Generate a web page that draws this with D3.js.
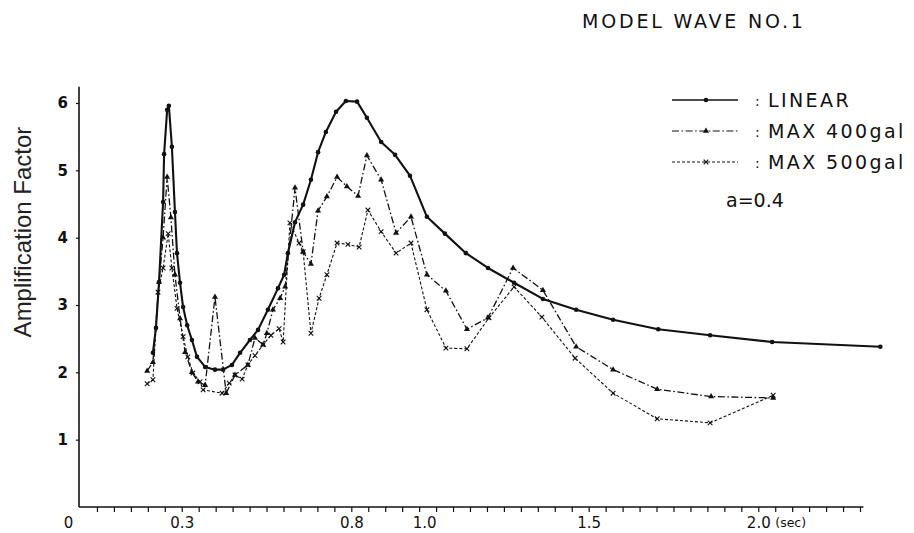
<!DOCTYPE html>
<html>
<head>
<meta charset="utf-8">
<script src="https://cdn.jsdelivr.net/npm/d3@7"></script>
<style>
  html, body { margin: 0; padding: 0; background: #fff; }
  svg { display: block; }
</style>
</head>
<body>
<svg id="chart" width="914" height="533"></svg>
<script>
// ---- data: [period (sec), amplification factor] ----
const linearData = [
  [0.215,2.29],[0.224,2.66],[0.233,3.34],[0.245,4.53],[0.248,5.24],[0.257,5.90],[0.262,5.96],
  [0.271,5.35],[0.280,4.38],[0.286,3.77],[0.295,3.33],[0.304,2.97],[0.316,2.70],[0.330,2.48],
  [0.345,2.23],[0.369,2.08],[0.398,2.04],[0.422,2.04],[0.448,2.11],[0.472,2.29],[0.501,2.48],
  [0.525,2.63],[0.554,2.93],[0.584,3.25],[0.602,3.45],[0.613,3.77],[0.634,4.23],[0.658,4.49],
  [0.681,4.86],[0.702,5.27],[0.725,5.57],[0.755,5.87],[0.784,6.03],[0.817,6.02],[0.846,5.78],
  [0.888,5.42],[0.929,5.23],[0.973,4.92],[1.023,4.31],[1.076,4.06],[1.138,3.77],[1.203,3.55],
  [1.280,3.33],[1.365,3.09],[1.463,2.93],[1.572,2.78],[1.705,2.64],[1.858,2.55],[2.041,2.45],
  [2.360,2.38]
];
const max400Data = [
  [0.198,2.02],[0.215,2.15],[0.233,3.34],[0.245,4.00],[0.257,4.90],[0.268,4.30],[0.280,3.45],
  [0.295,2.80],[0.310,2.30],[0.330,2.00],[0.348,1.86],[0.369,1.81],[0.398,3.12],[0.431,1.69],
  [0.457,1.96],[0.495,2.11],[0.516,2.51],[0.540,2.41],[0.551,2.58],[0.569,2.93],[0.590,3.10],
  [0.605,3.27],[0.634,4.74],[0.658,3.79],[0.681,3.61],[0.702,4.40],[0.728,4.61],[0.758,4.90],
  [0.787,4.76],[0.820,4.62],[0.846,5.22],[0.888,4.86],[0.932,4.07],[0.976,4.31],[1.023,3.45],
  [1.079,3.21],[1.141,2.64],[1.203,2.81],[1.277,3.55],[1.365,3.22],[1.463,2.38],[1.572,2.04],
  [1.702,1.75],[1.861,1.64],[2.044,1.62]
];
const max500Data = [
  [0.198,1.83],[0.215,1.89],[0.230,3.19],[0.245,3.55],[0.260,4.06],[0.271,3.55],[0.286,2.95],
  [0.304,2.53],[0.318,2.23],[0.333,1.99],[0.354,1.86],[0.363,1.74],[0.419,1.69],[0.440,1.84],
  [0.457,1.96],[0.478,1.90],[0.495,2.11],[0.516,2.25],[0.540,2.41],[0.563,2.55],[0.587,2.65],
  [0.599,2.45],[0.619,4.22],[0.646,3.92],[0.658,3.79],[0.681,2.58],[0.705,3.10],[0.728,3.45],
  [0.758,3.92],[0.790,3.90],[0.823,3.86],[0.849,4.41],[0.888,4.09],[0.932,3.77],[0.976,3.92],
  [1.023,2.93],[1.079,2.36],[1.141,2.35],[1.206,2.81],[1.280,3.27],[1.362,2.82],[1.460,2.21],
  [1.572,1.69],[1.702,1.31],[1.858,1.25],[2.044,1.66]
];
const xLabelValues = [0, 0.3, 0.8, 1.0, 1.5, 2.0];
const yTickValues = [1, 2, 3, 4, 5, 6];
const legendLabels = ["LINEAR", "MAX 400gal", "MAX 500gal"];
const titleText = "MODEL WAVE NO.1";
const yLabelText = "Amplification Factor";
const xUnitText = "(sec)";
const paramText = "a=0.4";

// ---- scales ----
const svg = d3.select("#chart");
const x = d3.scaleLinear().domain([0, 2.3]).range([80, 860]);
const y = d3.scaleLinear().domain([0, 6]).range([507, 103]);
const ink = "#111";

// ---- axes ----
const xMinor = d3.range(1, 47).map(i => +(i * 0.05).toFixed(2));
const gx = svg.append("g").attr("transform", `translate(0,${y(0)})`)
  .call(d3.axisBottom(x).tickValues(xMinor).tickSize(5).tickFormat(""));
gx.select(".domain").remove();
gx.selectAll(".tick line").attr("stroke", ink).attr("stroke-width", 1.2);
svg.append("line").attr("x1", x(0) - 1).attr("x2", x(2.31)).attr("y1", y(0)).attr("y2", y(0))
  .attr("stroke", ink).attr("stroke-width", 1.6);

const gxl = svg.append("g").attr("transform", `translate(0,${y(0)})`)
  .call(d3.axisBottom(x).tickValues(xLabelValues).tickSize(0).tickPadding(10)
    .tickFormat(d => d === 0 ? "0" : d3.format(".1f")(d)));
gxl.select(".domain").remove();
gxl.selectAll("text").attr("font-family", "DejaVu Sans").attr("font-size", 15)
  .attr("fill", ink).attr("dx", d => d === 0 ? -12 : (d === 1.0 ? 5 : 0));
svg.append("text").attr("x", x(2.0) + 17).attr("y", 527).attr("font-family", "DejaVu Sans")
  .attr("font-size", 12.5).attr("fill", ink).text(xUnitText);

const gy = svg.append("g").attr("transform", `translate(${x(0) - 1},0)`)
  .call(d3.axisLeft(y).tickValues(yTickValues).tickSize(3).tickPadding(8).tickFormat(d3.format("d")));
gy.select(".domain").remove();
gy.selectAll(".tick line").attr("stroke", ink).attr("stroke-width", 1.2);
gy.selectAll("text").attr("font-family", "DejaVu Sans").attr("font-weight", "bold")
  .attr("font-size", 15).attr("fill", ink);
svg.append("line").attr("x1", x(0) - 1).attr("x2", x(0) - 1).attr("y1", y(0)).attr("y2", y(6.24))
  .attr("stroke", ink).attr("stroke-width", 1.6);

svg.append("text").attr("transform", "translate(31,232) rotate(-90)")
  .attr("text-anchor", "middle").attr("font-family", "Liberation Sans").attr("font-size", 24)
  .attr("fill", "#222").text(yLabelText);

// ---- series ----
const line = d3.line().x(d => x(d[0])).y(d => y(d[1]));
const styles = [
  { data: linearData, width: 2.1, dash: null, marker: "circle" },
  { data: max400Data, width: 1.3, dash: "7,2.5,1.6,2.5", marker: "triangle" },
  { data: max500Data, width: 1.1, dash: "3,2", marker: "cross" }
];
function drawMarker(g, type, cx, cy) {
  if (type === "circle") {
    g.append("circle").attr("cx", cx).attr("cy", cy).attr("r", 2.3).attr("fill", ink);
  } else if (type === "triangle") {
    g.append("path").attr("d", d3.symbol(d3.symbolTriangle, 16)()).attr("transform", `translate(${cx},${cy})`).attr("fill", ink);
  } else {
    g.append("path").attr("d", `M${cx-2.3},${cy-2.3}L${cx+2.3},${cy+2.3}M${cx-2.3},${cy+2.3}L${cx+2.3},${cy-2.3}`)
      .attr("stroke", ink).attr("stroke-width", 1.1);
  }
}
// draw lower-priority series first
[2, 1, 0].forEach(i => {
  const s = styles[i];
  svg.append("path").datum(s.data).attr("d", line).attr("fill", "none").attr("stroke", ink)
    .attr("stroke-width", s.width).attr("stroke-dasharray", s.dash).attr("stroke-linejoin", "round");
  const mg = svg.append("g");
  s.data.forEach(d => drawMarker(mg, s.marker, x(d[0]), y(d[1])));
});

// ---- legend ----
const legendY = [100, 131, 162];
const textY = [107, 138, 169];
styles.forEach((s, i) => {
  svg.append("line").attr("x1", 672).attr("x2", 738).attr("y1", legendY[i]).attr("y2", legendY[i])
    .attr("stroke", ink).attr("stroke-width", i === 0 ? 1.6 : 1.2).attr("stroke-dasharray", s.dash);
  drawMarker(svg.append("g"), s.marker, 706, legendY[i]);
  svg.append("text").attr("x", 755).attr("y", textY[i] - 1).attr("font-family", "DejaVu Sans")
    .attr("font-size", 14).attr("fill", ink).text(":");
  svg.append("text").attr("x", 768).attr("y", textY[i]).attr("font-family", "DejaVu Sans")
    .attr("font-size", 19).attr("letter-spacing", 2.4).attr("fill", ink).text(legendLabels[i]);
});
svg.append("text").attr("x", 726).attr("y", 207).attr("font-family", "DejaVu Sans")
  .attr("font-size", 19).attr("fill", ink).text(paramText);

// ---- title ----
svg.append("text").attr("x", 582).attr("y", 28).attr("font-family", "DejaVu Sans")
  .attr("font-size", 19).attr("letter-spacing", 2.8).attr("fill", ink).text(titleText);
</script>
</body>
</html>
